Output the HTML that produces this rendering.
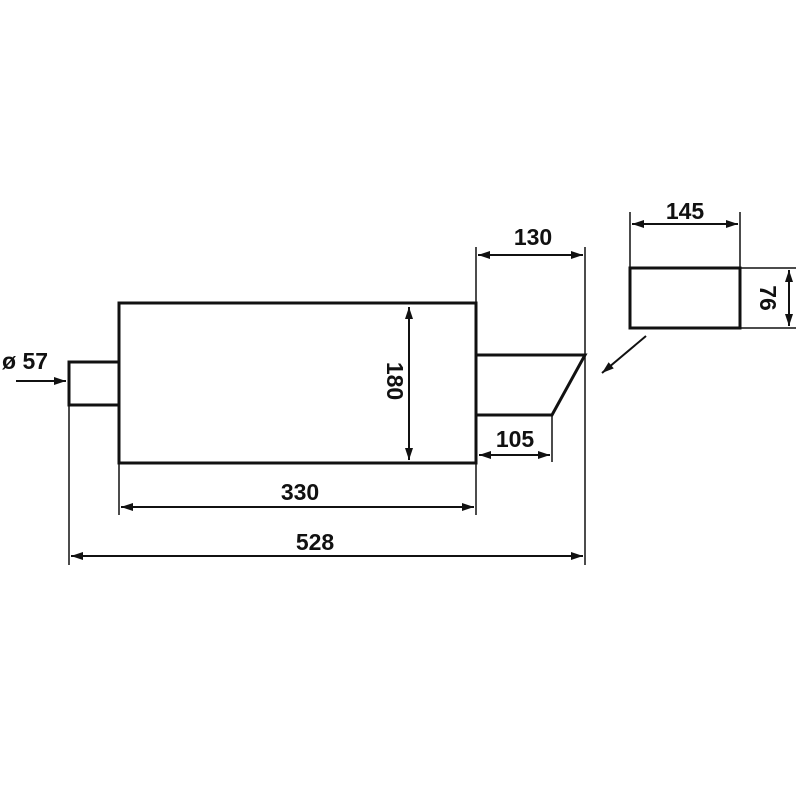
<!DOCTYPE html>
<html><head><style>
html,body{margin:0;padding:0;background:#fff;}
svg{display:block}
text{font-family:"Liberation Sans",sans-serif;font-weight:bold;font-size:23px;fill:#111}
</style></head><body>
<svg width="800" height="800" viewBox="0 0 800 800" xmlns="http://www.w3.org/2000/svg">
<defs>
<marker id="a" viewBox="0 0 12 8" refX="12" refY="4" markerWidth="13" markerHeight="8" orient="auto-start-reverse" markerUnits="userSpaceOnUse">
<path d="M0,0 L12,4 L0,8 Z" fill="#111"/>
</marker>
</defs>
<g stroke="#111" fill="none">
<rect x="119" y="303" width="357" height="160" stroke-width="3"/>
<path d="M119,362 H69 V405 H119" stroke-width="3"/>
<path d="M477,355 H585 L552,415 H477" stroke-width="3"/>
<rect x="630" y="268" width="110" height="60" stroke-width="3"/>
<g stroke-width="1.5">
<line x1="476" y1="247" x2="476" y2="515"/>
<line x1="585" y1="247" x2="585" y2="565"/>
<line x1="119" y1="463" x2="119" y2="515"/>
<line x1="69" y1="405" x2="69" y2="565"/>
<line x1="552" y1="415" x2="552" y2="462"/>
<line x1="630" y1="212" x2="630" y2="268"/>
<line x1="740" y1="212" x2="740" y2="268"/>
<line x1="740" y1="268" x2="796" y2="268"/>
<line x1="740" y1="328" x2="796" y2="328"/>
</g>
<g stroke-width="2">
<line x1="478" y1="255" x2="583" y2="255" marker-start="url(#a)" marker-end="url(#a)"/>
<line x1="632" y1="224" x2="738" y2="224" marker-start="url(#a)" marker-end="url(#a)"/>
<line x1="789" y1="270" x2="789" y2="326" marker-start="url(#a)" marker-end="url(#a)"/>
<line x1="409" y1="307" x2="409" y2="460" marker-start="url(#a)" marker-end="url(#a)"/>
<line x1="479" y1="455" x2="550" y2="455" marker-start="url(#a)" marker-end="url(#a)"/>
<line x1="121" y1="507" x2="474" y2="507" marker-start="url(#a)" marker-end="url(#a)"/>
<line x1="71" y1="556" x2="583" y2="556" marker-start="url(#a)" marker-end="url(#a)"/>
<line x1="16" y1="381" x2="66" y2="381" marker-end="url(#a)"/>
<line x1="646" y1="336" x2="602" y2="373" marker-end="url(#a)"/>
</g>
</g>
<text x="533" y="245" text-anchor="middle">130</text>
<text x="685" y="219" text-anchor="middle">145</text>
<text x="515" y="447" text-anchor="middle">105</text>
<text x="300" y="500" text-anchor="middle">330</text>
<text x="315" y="550" text-anchor="middle">528</text>
<text x="2" y="369">ø 57</text>
<text transform="translate(387,381) rotate(90)" text-anchor="middle">180</text>
<text transform="translate(760,298) rotate(90)" text-anchor="middle">76</text>
</svg>
</body></html>
